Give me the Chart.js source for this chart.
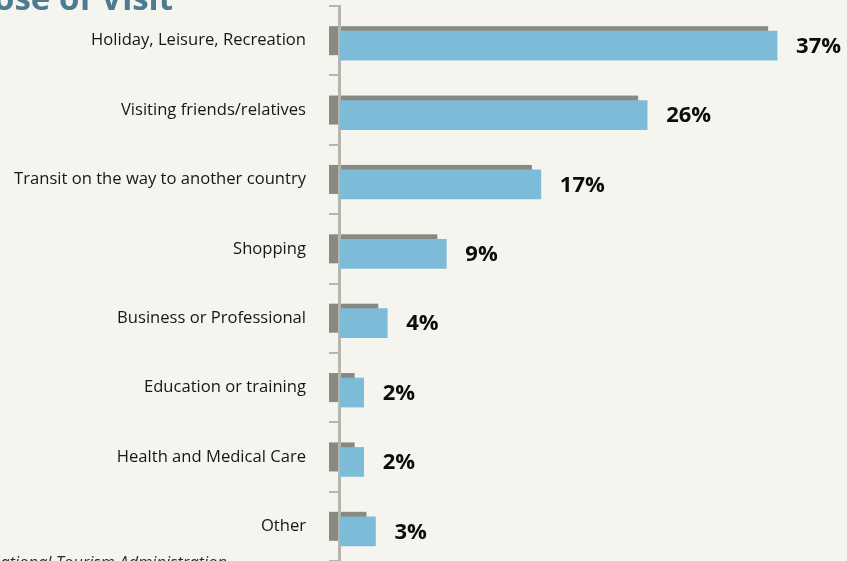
<!DOCTYPE html>
<html>
<head>
<meta charset="utf-8">
<script src="https://cdn.jsdelivr.net/npm/chart.js@4/dist/chart.umd.min.js"></script>
<style>
  html, body { margin: 0; padding: 0; background: #f5f4ef; overflow: hidden; }
  #wrap { position: relative; width: 847px; height: 561px; }
</style>
</head>
<body>
<div id="wrap"><canvas id="c"></canvas></div>
<script>
// Purpose of visit, share of visitors (%)
const categories = [
  'Holiday, Leisure, Recreation',
  'Visiting friends/relatives',
  'Transit on the way to another country',
  'Shopping',
  'Business or Professional',
  'Education or training',
  'Health and Medical Care',
  'Other'
];
const shares = [37, 26, 17, 9, 4, 2, 2, 3];
const valueLabels = shares.map(v => v + '%');
const titleText = 'Purpose of Visit';
const sourceText = 'Source: National Tourism Administration';

const BLUE = '#7dbbd8';
const SHADOW = '#8a8981';
const AXIS = '#b7b6ae';
const TEXT = '#161615';
const TITLE = '#4d7c92';
const FRONT_DX = 1, FRONT_DY = 5;   // front face offset from the bar's own slot
const BACK_DX = -10;                // back face starts left of the axis

// Back face of each bar, drawn before the axes so the axis line sits on top
const shadowBars = {
  id: 'shadowBars',
  beforeDraw(chart) {
    const ctx = chart.ctx;
    const meta = chart.getDatasetMeta(0);
    ctx.save();
    ctx.fillStyle = SHADOW;
    meta.data.forEach(el => {
      const h = el.height;
      const x0 = el.base + BACK_DX;
      const x1 = el.x - 8;
      ctx.fillRect(x0, el.y - h / 2, x1 - x0, h);
    });
    ctx.restore();
  }
};

// Front face shifted down/right from the back face
const frontShift = {
  id: 'frontShift',
  beforeDatasetDraw(chart) {
    chart.ctx.save();
    chart.ctx.translate(FRONT_DX, FRONT_DY);
  },
  afterDatasetDraw(chart) {
    chart.ctx.restore();
  }
};

// Percentage labels, title and source line
const annotations = {
  id: 'annotations',
  afterDraw(chart) {
    const ctx = chart.ctx;
    const meta = chart.getDatasetMeta(0);
    ctx.save();
    ctx.fillStyle = '#0c0c0c';
    ctx.font = 'bold 22px "Open Sans"';
    ctx.textAlign = 'left';
    ctx.textBaseline = 'middle';
    meta.data.forEach((el, i) => {
      ctx.fillText(valueLabels[i], el.x + FRONT_DX + 19, el.y + FRONT_DY + 1);
    });

    ctx.fillStyle = TITLE;
    ctx.font = 'bold 33px "Open Sans"';
    ctx.textAlign = 'right';
    ctx.textBaseline = 'alphabetic';
    ctx.fillText(titleText, 173, 10);

    ctx.fillStyle = '#2a2a28';
    ctx.font = 'italic 16.5px "Open Sans"';
    ctx.fillText(sourceText, 227, 568);
    ctx.restore();
  }
};

new Chart(document.getElementById('c'), {
  type: 'bar',
  data: {
    labels: categories,
    datasets: [{
      data: shares,
      backgroundColor: BLUE,
      borderWidth: 0,
      barThickness: 29
    }]
  },
  options: {
    indexAxis: 'y',
    responsive: true,
    maintainAspectRatio: false,
    animation: false,
    devicePixelRatio: 1,
    layout: { padding: { top: 6, left: 0, right: 0, bottom: 0 } },
    plugins: {
      legend: { display: false },
      tooltip: { enabled: false },
      title: { display: false }
    },
    scales: {
      x: {
        display: false,
        min: 0,
        max: 43
      },
      y: {
        afterFit(scale) {
          scale.width = 339;
          scale.paddingTop = 0;
          scale.paddingBottom = 0;
        },
        grid: {
          offset: true,
          drawOnChartArea: false,
          drawTicks: true,
          tickLength: 10,
          color: AXIS,
          lineWidth: 2
        },
        border: { display: true, color: AXIS, width: 3 },
        ticks: {
          color: TEXT,
          padding: 23,
          font: { family: '"Open Sans"', size: 16.6 }
        }
      }
    }
  },
  plugins: [shadowBars, frontShift, annotations]
});
</script>
</body>
</html>
